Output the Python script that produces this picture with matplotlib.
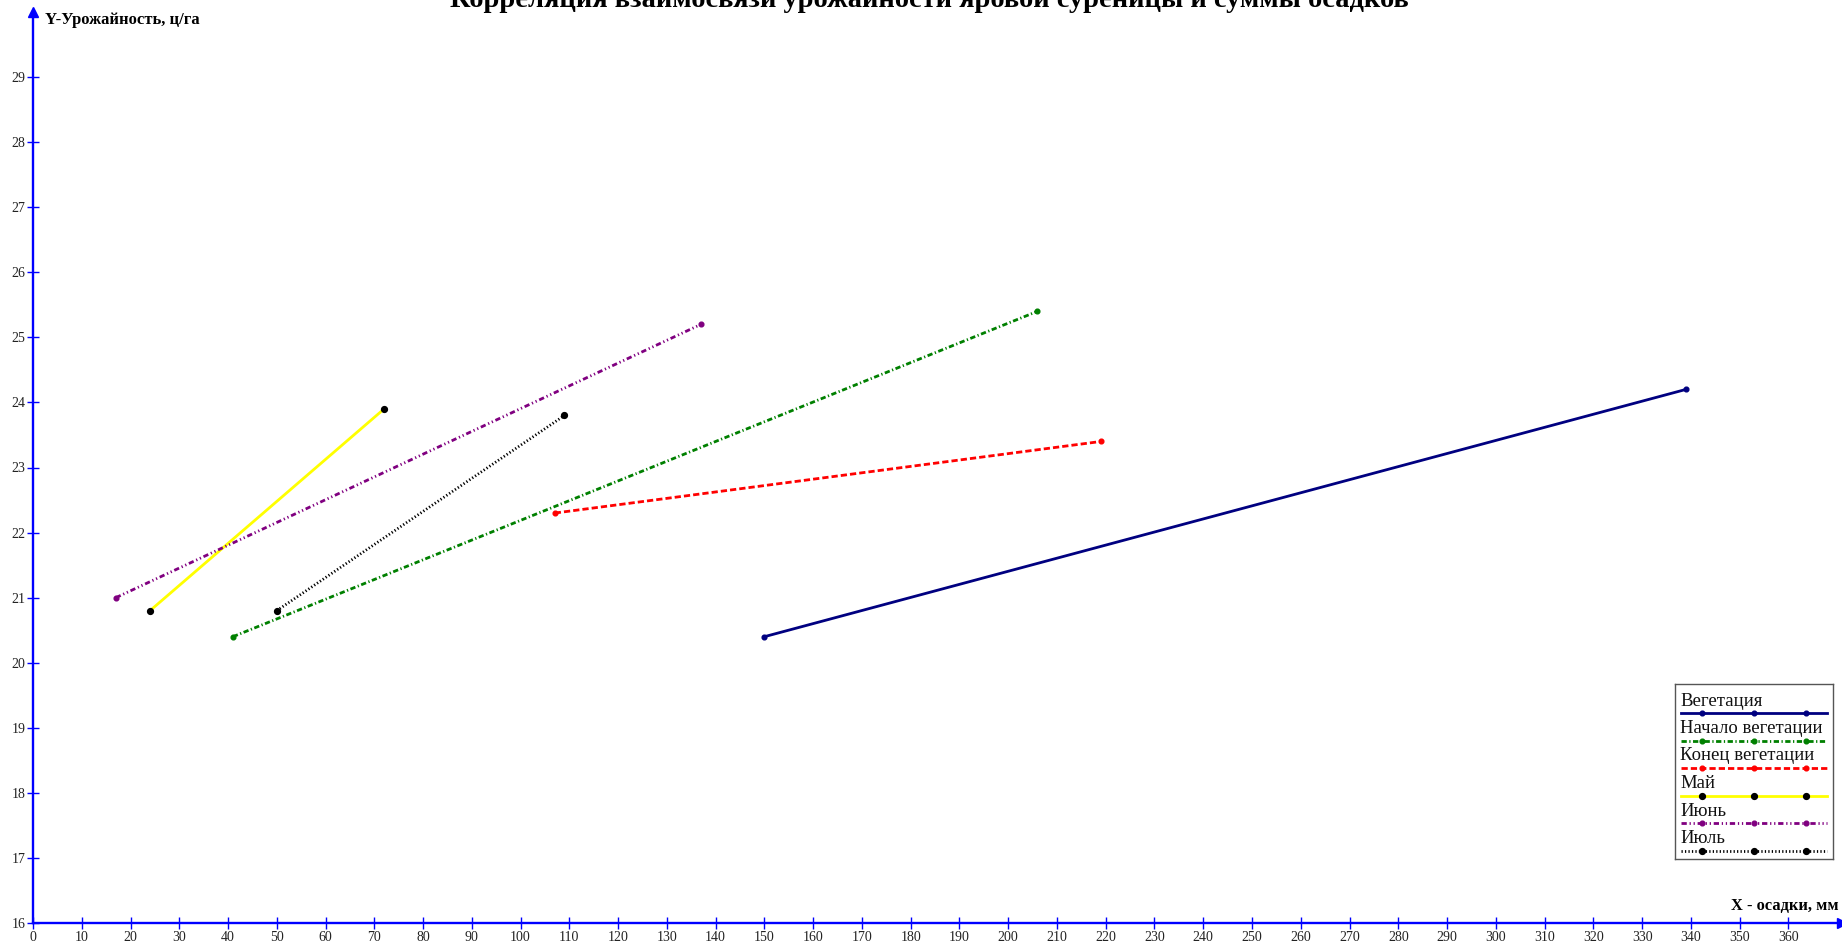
import numpy as np
import matplotlib
matplotlib.use("Agg")
import matplotlib.pyplot as plt

plt.rcParams['font.family'] = ['Liberation Serif', 'DejaVu Serif']
plt.rcParams['lines.scale_dashes'] = False

title = "Корреляция взаимосвязи урожайности яровой суреницы и суммы осадков"
x_label = "X - осадки, мм"
y_label = "Y-Урожайность, ц/га"

names = ["Вегетация", "Начало вегетации", "Конец вегетации", "Май", "Июнь", "Июль"]
# endpoints of the regression lines: x - осадки (мм), y - урожайность (ц/га)
veg_x = [150, 339]
veg_y = [20.4, 24.2]
start_x = [41, 206]
start_y = [20.4, 25.4]
end_x = [107, 219]
end_y = [22.3, 23.4]
may_x = [24, 72]
may_y = [20.8, 23.9]
june_x = [17, 137]
june_y = [21.0, 25.2]
july_x = [50, 109]
july_y = [20.8, 23.8]

x_ticks = np.arange(0, 361, 10)
y_ticks = np.arange(16, 30, 1)

xs = [veg_x, start_x, end_x, may_x, june_x, july_x]
ys = [veg_y, start_y, end_y, may_y, june_y, july_y]
styles = [
    dict(color='#000080', ls='-', mfc='#000080', ms=3.4),
    dict(color='#008000', ls=(0, (3.8, 1.8, 0.9, 1.8)), mfc='#008000', ms=3.4),
    dict(color='#ff0000', ls=(0, (4.5, 2.2)), mfc='#ff0000', ms=3.4),
    dict(color='#ffff00', ls='-', mfc='black', ms=4.2),
    dict(color='#800080', ls=(0, (3.8, 2.0, 0.9, 2.0, 0.9, 2.0)), mfc='#800080', ms=3.4),
    dict(color='black', ls=(0, (0.9, 1.6)), mfc='black', ms=4.2),
]

fig = plt.figure(figsize=(18.42, 9.44), dpi=100)
ax = fig.add_axes([33 / 1842, 21 / 944, 1 - 33 / 1842, 1 - 33 / 944])

for x, y, st in zip(xs, ys, styles):
    ax.plot(x, y, color=st['color'], linestyle=st['ls'], linewidth=2.0,
            marker='o', markersize=st['ms'], markerfacecolor=st['mfc'],
            markeredgecolor=st['mfc'])

ax.set_xlim(0, 371)
ax.set_ylim(16, 30)
ax.set_xticks(x_ticks)
ax.set_yticks(y_ticks)
for s in ['top', 'right']:
    ax.spines[s].set_visible(False)
for s in ['left', 'bottom']:
    ax.spines[s].set_color('blue')
    ax.spines[s].set_linewidth(1.7)
ax.tick_params(direction='inout', length=8, width=1, color='blue',
               labelsize=10, labelcolor='#222222', pad=1.5)
ax.plot(1, 0, '>', color='blue', ms=7, transform=ax.transAxes, clip_on=False)
ax.plot(0, 1, '^', color='blue', ms=7, transform=ax.transAxes, clip_on=False)

fig.text(1839 / 1842, 1 - 910 / 944, x_label, ha='right', va='baseline',
         fontsize=11.8, fontweight='bold')
fig.text(45 / 1842, 1 - 20 / 944, y_label, ha='left', va='center',
         fontsize=12, fontweight='bold')
fig.text(929 / 1842, 1 - 7 / 944, title, ha='center', va='baseline',
         fontsize=20.5, fontweight='bold')

# legend: label on one row, line sample underneath
lg = fig.add_axes([1675 / 1842, 1 - 859 / 944, 158 / 1842, 175 / 944])
lg.set_xlim(0, 158)
lg.set_ylim(175, 0)
lg.set_xticks([])
lg.set_yticks([])
for s in lg.spines.values():
    s.set_color('#555555')
    s.set_linewidth(1)
for i, (name, st) in enumerate(zip(names, styles)):
    y0 = 17 + i * 27.5
    lg.text(5, y0, name, fontsize=13.5, va='center', ha='left', color='#111111')
    lg.plot([6, 152], [y0 + 12, y0 + 12], color=st['color'], linestyle=st['ls'],
            linewidth=2.0)
    lg.plot([27, 79, 131], [y0 + 12] * 3, linestyle='none', marker='o',
            markersize=st['ms'], markerfacecolor=st['mfc'], markeredgecolor=st['mfc'])

fig.savefig("out.png", dpi=100)
